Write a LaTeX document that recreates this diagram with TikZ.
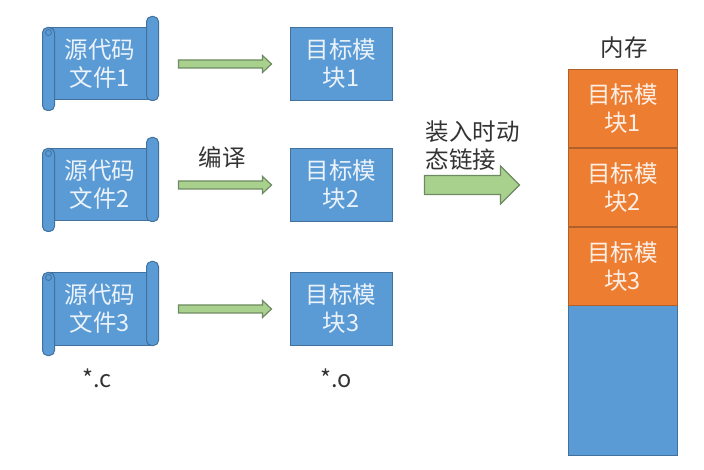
\documentclass[tikz,border=0pt]{standalone}
\usepackage{fontspec}
\setmainfont{Noto Sans CJK SC}
\usepackage{xcolor}
\usetikzlibrary{positioning,calc}
\definecolor{pptblue}{HTML}{5B9BD5}
\definecolor{pptblueline}{HTML}{41719C}
\definecolor{pptorange}{HTML}{ED7D31}
\definecolor{pptorangeline}{HTML}{B0612B}
\definecolor{pptgreen}{HTML}{A9D18E}
\definecolor{pptgreenline}{HTML}{6F8A62}

\begin{document}
\begin{tikzpicture}[x=1pt, y=-1pt,
  font=\fontsize{23.5}{28}\selectfont,
  box/.style={draw=pptblueline, fill=pptblue, line width=1pt, align=center,
              text=white, text opacity=0.88, inner sep=0pt},
  srcbox/.style={box, minimum width=100pt, minimum height=72pt},
  roll/.style={draw=pptblueline, fill=pptblue, line width=1pt, rounded corners=5pt},
  objbox/.style={box, minimum width=102pt, minimum height=73pt},
  memblk/.style={box, fill=pptorange, draw=pptorangeline, minimum width=109pt,
                 minimum height=78pt},
  lbl/.style={text=black!80},
  garrow/.style n args={3}{draw=pptgreenline, fill=pptgreen, line width=1.2pt,
    to path={let \p1=(\tikztostart), \p2=(\tikztotarget) in
      (\x1,\y1+#1) -- (\x2-#3,\y1+#1) -- (\x2-#3,\y1+#2) -- (\x2,\y1)
      -- (\x2-#3,\y1-#2) -- (\x2-#3,\y1-#1) -- (\x1,\y1-#1) -- cycle}}]
\useasboundingbox (0,0) rectangle (704,470);

% Left: source files, compiled to object modules.
\foreach \i/\y in {1/64,2/185,3/309} {
  \node[srcbox] (s\i) at (100,\y) {源代码\\文件\i};
  \draw[roll] ([xshift=-7pt]s\i.north west) rectangle ([xshift=5pt,yshift=-10pt]s\i.south west);
  \draw[roll] ([xshift=-4pt,yshift=11pt]s\i.north east) rectangle ([xshift=8pt]s\i.south east);
  \draw[pptblueline, line width=0.8pt] ([xshift=-1pt,yshift=-5pt]s\i.north west) circle (3pt);
  \node[objbox] (o\i) at (341,\y) {目标模\\块\i};
  \draw[garrow={4pt}{8.5pt}{9pt}] ([xshift=28pt]s\i.east) to ([xshift=-18pt]o\i.west);
}
\node[lbl] (cc) at (222,158) {编译};
\node[lbl] (ext1) at (97,378) {*.c};
\node[lbl] (ext2) at (336,378) {*.o};

% Right: memory after loading.
\node[box, minimum width=109pt, minimum height=385pt] (mem) at (622.5,262.5) {};
\node[memblk, below=0pt of mem.north] (m1) {目标模\\块1};
\node[memblk, below=0pt of m1] (m2) {目标模\\块2};
\node[memblk, below=0pt of m2] (m3) {目标模\\块3};
\node[lbl] (mlab) at (624,48) {内存};

\node[lbl, align=left, anchor=west] (ld) at (422,146) {装入时动\\态链接};
\draw[garrow={9.5pt}{19pt}{19pt}] ([xshift=32pt]o2.east) to ([xshift=-48pt]o2.east -| mem.west);
\end{tikzpicture}
\end{document}
